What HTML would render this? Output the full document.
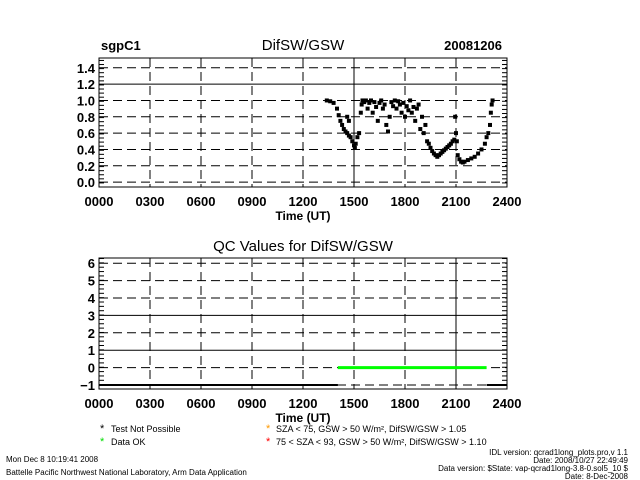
<!DOCTYPE html>
<html><head><meta charset="utf-8"><style>
body{margin:0;background:#fff;}
svg{display:block;font-family:"Liberation Sans",sans-serif;}
</style></head><body>
<svg id="c" width="640" height="480" viewBox="0 0 640 480"></svg>
<script>
const xTicks=[0,3,6,9,12,15,18,21,24];
const xTickLabels=["0000","0300","0600","0900","1200","1500","1800","2100","2400"];
const y1Ticks=[0,0.2,0.4,0.6,0.8,1.0,1.2,1.4];
const y1TickLabels=["0.0","0.2","0.4","0.6","0.8","1.0","1.2","1.4"];
const y2Ticks=[-1,0,1,2,3,4,5,6];
const hours=[13.4,13.6,13.8,14.0,14.1,14.2,14.3,14.4,14.5,14.6,14.7,14.8,14.9,15.0,15.05,15.1,14.6,14.7,15.2,15.3,15.4,15.45,15.5,15.6,15.7,15.8,15.9,16.0,16.1,16.2,16.3,16.4,16.5,16.6,16.7,16.8,16.9,17.0,17.1,17.2,17.3,17.4,17.5,17.6,17.7,17.8,17.9,18.0,18.1,18.2,18.3,18.4,18.5,18.6,18.7,18.8,18.9,19.0,19.1,19.2,19.3,19.4,19.5,19.6,19.7,19.8,19.9,20.0,20.1,20.2,20.3,20.4,20.5,20.6,20.7,20.8,20.9,21.0,20.95,21.05,21.1,21.2,21.3,21.4,21.5,21.7,21.9,22.1,22.3,22.5,22.7,22.8,22.9,23.0,23.05,23.1,23.15];
const ratio=[1.0,0.99,0.97,0.9,0.82,0.75,0.7,0.65,0.62,0.6,0.57,0.55,0.5,0.45,0.42,0.47,0.8,0.75,0.55,0.6,0.85,0.95,1.0,0.98,1.0,0.9,0.97,1.0,0.85,0.98,0.92,0.75,0.97,1.0,0.9,0.95,0.7,0.62,0.8,0.98,0.93,1.0,0.9,0.99,0.95,0.85,0.97,0.8,0.93,0.88,1.0,0.85,0.92,0.75,0.9,0.95,0.65,0.8,0.6,0.7,0.5,0.47,0.42,0.38,0.35,0.33,0.31,0.33,0.35,0.37,0.39,0.41,0.43,0.45,0.47,0.5,0.52,0.6,0.8,0.5,0.33,0.28,0.25,0.24,0.25,0.27,0.29,0.31,0.35,0.4,0.47,0.55,0.6,0.7,0.85,0.95,1.0];
const qcSegments=[[0,14.05,-1],[14.05,22.8,0],[22.8,24,-1]];
const qcColors=["#000","#00ff00","#000"];

const svg=document.getElementById('c');const NS="http://www.w3.org/2000/svg";
function mk(t,a,p){const e=document.createElementNS(NS,t);for(const k in a)e.setAttribute(k,a[k]);(p||svg).appendChild(e);return e;}
const L=99,R=507;
const xs=h=>L+(R-L)*h/24;
function panel(top,bot,ymin,ymax,ticks,labels,name,minor,solidY,solidX){
  const ys=v=>bot-(v-ymin)/(ymax-ymin)*(bot-top);
  const g=mk('g',{});
  
  
  ticks.forEach((v,i)=>{
    const l=mk('line',{x1:L,x2:R,y1:ys(v),y2:ys(v),stroke:'#000','stroke-width':1,'stroke-dasharray':solidY.includes(v)?'none':'9,5'},g);
    
    
    const t=mk('text',{x:L-4,y:ys(v)+5,'text-anchor':'end','font-size':13,'font-weight':'bold'},g);
    
    
    t.textContent=labels?labels[i]:String(v).replace('-','−');
  });
  if(minor){for(let v=ymin;v<=ymax;v+=minor){mk('line',{x1:L,x2:L+5,y1:ys(v),y2:ys(v),stroke:'#000'},g);mk('line',{x1:R-5,x2:R,y1:ys(v),y2:ys(v),stroke:'#000'},g);}}
  xTicks.forEach((h,i)=>{
    if(i>0&&i<8){const l=mk('line',{x1:xs(h),x2:xs(h),y1:top,y2:bot,stroke:'#000','stroke-dasharray':solidX.includes(h)?'none':'9,5'},g);
    
    }
    const t=mk('text',{x:xs(h),y:bot+19,'text-anchor':'middle','font-size':13,'font-weight':'bold'},g);
    
    
    t.textContent=xTickLabels[i];
  });
  mk('rect',{x:L,y:top,width:R-L,height:bot-top,fill:'none',stroke:'#000'},g);
  const xt=mk('text',{x:303,y:bot+33,'text-anchor':'middle','font-size':12,'font-weight':'bold'},g);
  
  
  xt.textContent='Time (UT)';
  return ys;
}
const ys1=panel(58,187,-0.06,1.52,y1Ticks,y1TickLabels,'ratio-panel',0.05,[1.2],[15]);
hours.forEach((h,i)=>{const r=mk('rect',{x:xs(h)-2,y:ys1(ratio[i])-2,width:4,height:4,fill:'#000'});

});
const ys2=panel(258,389,-1.23,6.3,y2Ticks,null,'qc-panel',0.25,[1,3],[21]);
qcSegments.forEach((s,i)=>{const l=mk('line',{x1:xs(s[0]),x2:xs(s[1]),y1:ys2(s[2]),y2:ys2(s[2]),stroke:qcColors[i],'stroke-width':i==1?3:2});

});
function txt(x,y,s,sz,name,anchor,fill,w){const t=mk('text',{x:x,y:y,'font-size':sz,'text-anchor':anchor||'start',fill:fill||'#000','font-weight':w||'normal'});t.textContent=s;return t;}
txt(101,50,'sgpC1',13,'site-label','start','#000','bold');
txt(303,50,'DifSW/GSW',15,'chart-title','middle');
txt(502,50,'20081206',13,'date-label','end','#000','bold');
txt(303,251,'QC Values for DifSW/GSW',15,'qc-title','middle');
txt(100,432,'*',11,'legend-marker-black');txt(111,432,'Test Not Possible',9,'legend-not-possible');
txt(100,445,'*',11,'legend-marker-green','start','#00dd00');txt(111,445,'Data OK',9,'legend-ok');
txt(266,432,'*',11,'legend-marker-orange','start','#ff9900');txt(276,432,'SZA < 75, GSW > 50 W/m², DifSW/GSW > 1.05',9,'legend-orange');
txt(266,445,'*',11,'legend-marker-red','start','#ff0000');txt(276,445,'75 < SZA < 93, GSW > 50 W/m², DifSW/GSW > 1.10',9,'legend-red');
txt(6,462,'Mon Dec  8 10:19:41 2008',8,'timestamp');
txt(6,475,'Battelle Pacific Northwest National Laboratory, Arm Data Application',8,'credit');
txt(628,455,'IDL version: qcrad1long_plots.pro,v 1.1',8,'idl-version','end');
txt(628,463,'Date: 2008/10/27 22:49:49',8,'idl-date','end');
txt(628,471,'Data version: $State: vap-qcrad1long-3.8-0.sol5_10 $',8,'data-version','end');
txt(628,479,'Date: 8-Dec-2008',8,'data-date','end');
</script>
</body></html>
